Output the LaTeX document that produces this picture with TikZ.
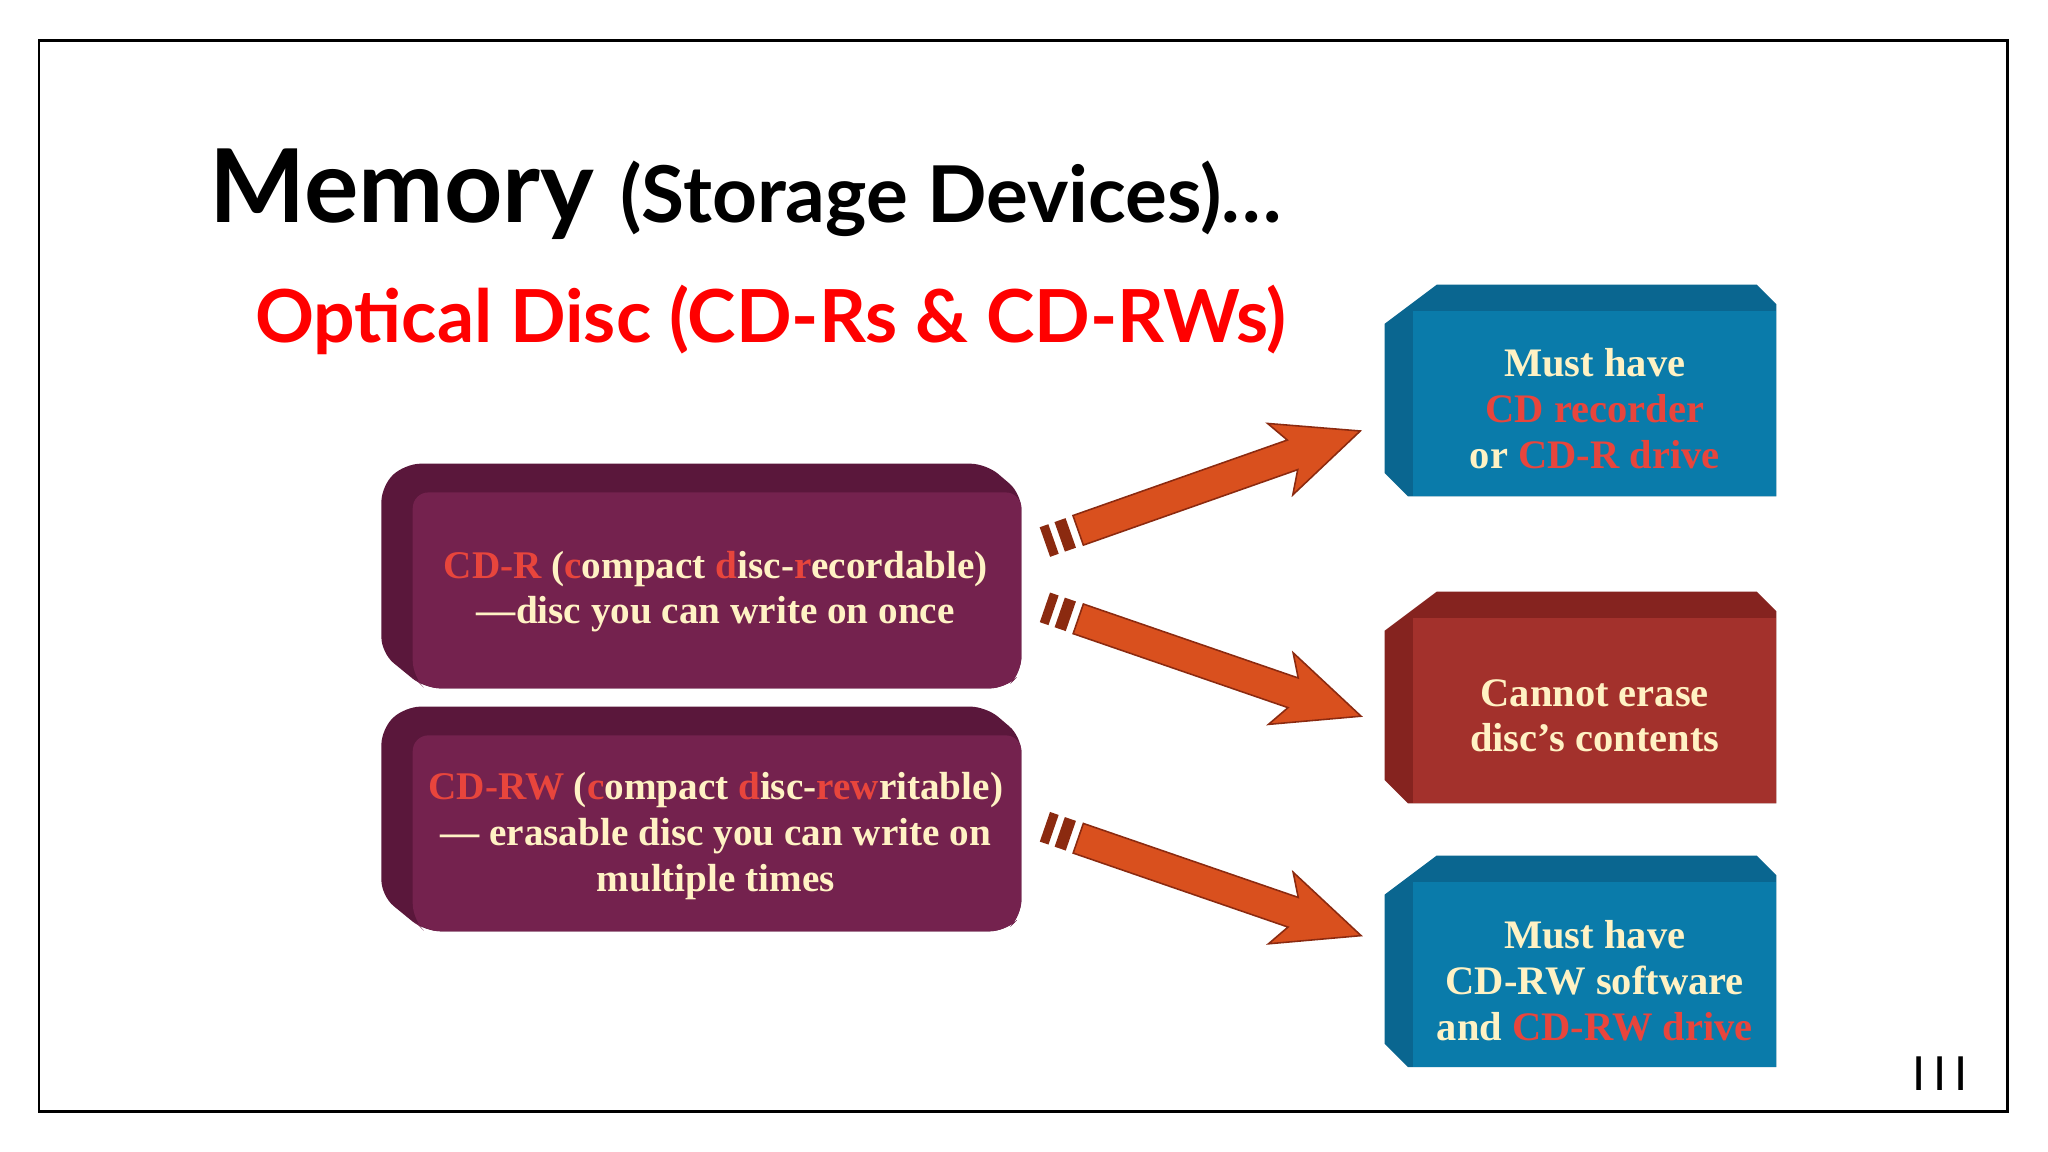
\documentclass[tikz,border=0pt]{standalone}
\usepackage{fontspec}
\setmainfont{Liberation Serif}
\newfontfamily\titlefont{Lato}
\definecolor{purp}{HTML}{74224E}
\definecolor{purpd}{HTML}{5A173B}
\definecolor{blu}{HTML}{0A7BAA}
\definecolor{blud}{HTML}{0A6690}
\definecolor{redb}{HTML}{A3312C}
\definecolor{redbd}{HTML}{85231F}
\definecolor{cream}{HTML}{FFF2C4}
\definecolor{hl}{HTML}{E8453C}
\definecolor{arr}{HTML}{D9501E}
\definecolor{arrd}{HTML}{8B2A10}
\begin{document}
\begin{tikzpicture}[x=0.5pt,y=-0.5pt,
  txt/.style={text=cream,font=\bfseries\fontsize{15.5}{17.5}\selectfont,align=center},
  ptxt/.style={text=cream,font=\bfseries\fontsize{15}{17.5}\selectfont,align=center}]
\useasboundingbox (0,0) rectangle (1568,882);
\fill[white] (0,0) rectangle (1568,882);
\draw[line width=1pt] (30,31) rectangle (1537,851);
\node[anchor=base west,inner sep=0,font=\titlefont\bfseries] (t) at (160,170)
  {{\fontsize{39}{40}\selectfont Memory}\hspace{10pt}{\fontsize{30}{30}\selectfont(Storage Devices)\ldots}};
\node[anchor=base west,inner sep=0,font=\titlefont\bfseries\fontsize{28}{30}\selectfont,text=red] (st) at (195,262) {Optical Disc (CD-Rs \& CD-RWs)};
% purple boxes
\fill[purpd,rounded corners=6pt] (310,355) -- (755,355) -- (782,378) -- (782,515) -- (770,527) -- (325,527) -- (292,500) -- (292,372) -- cycle;
\fill[purp,rounded corners=6pt] (316,377) -- (782,377) -- (782,515) -- (770,527) -- (325,527) -- (316,518) -- cycle;
\fill[purpd,rounded corners=6pt] (310,541) -- (755,541) -- (782,564) -- (782,701) -- (770,713) -- (325,713) -- (292,686) -- (292,558) -- cycle;
\fill[purp,rounded corners=6pt] (316,563) -- (782,563) -- (782,701) -- (770,713) -- (325,713) -- (316,704) -- cycle;
\node[ptxt] (p1) at (548,453) {\textcolor{hl}{CD-R} (\textcolor{hl}{c}ompact \textcolor{hl}{d}isc-\textcolor{hl}{r}ecordable)\\ ---disc you can write on once};
\node[ptxt] (p2) at (548,640) {\textcolor{hl}{CD-RW} (\textcolor{hl}{c}ompact \textcolor{hl}{d}isc-\textcolor{hl}{re}\textcolor{hl}{w}ritable)\\ --- erasable disc you can write on\\ multiple times};
% right boxes
\fill[blud] (1060,248) -- (1100,218) -- (1345,218) -- (1360,233) -- (1360,380) -- (1078,380) -- (1060,362) -- cycle;
\fill[blu] (1082,238) -- (1360,238) -- (1360,380) -- (1082,380) -- cycle;
\fill[redbd] (1060,483) -- (1100,453) -- (1345,453) -- (1360,468) -- (1360,615) -- (1078,615) -- (1060,597) -- cycle;
\fill[redb] (1082,473) -- (1360,473) -- (1360,615) -- (1082,615) -- cycle;
\fill[blud] (1060,685) -- (1100,655) -- (1345,655) -- (1360,670) -- (1360,817) -- (1078,817) -- (1060,799) -- cycle;
\fill[blu] (1082,675) -- (1360,675) -- (1360,817) -- (1082,817) -- cycle;
\node[txt] (b1) at (1221,313) {Must have\\ \textcolor{hl}{CD recorder}\\ or \textcolor{hl}{CD-R drive}};
\node[txt] (b2) at (1221,548) {Cannot erase\\ disc’s contents};
\node[txt] (b3) at (1221,751) {Must have\\ CD-RW software\\ and \textcolor{hl}{CD-RW drive}};
% arrows
\newcommand\bigarrow[3]{%
 \begin{scope}[shift={(#1)},rotate=#2]
  \fill[arrd] (0,-12) rectangle (7,12);
  \fill[arrd] (12,-12) rectangle (21,12);
  \fill[arr,draw=arrd,line width=0.6pt] (27,-12) -- (#3-55,-12) -- (#3-65,-29) -- (#3,0) -- (#3-65,29) -- (#3-55,12) -- (27,12) -- cycle;
 \end{scope}}
\bigarrow{800,415}{19.4}{256}
\bigarrow{800,465}{-19}{256}
\bigarrow{800,633}{-19}{256}
\node[anchor=base,font=\titlefont\fontsize{18}{20}\selectfont] (pg) at (1485,835) {I\,I\,I};
\end{tikzpicture}
\end{document}
